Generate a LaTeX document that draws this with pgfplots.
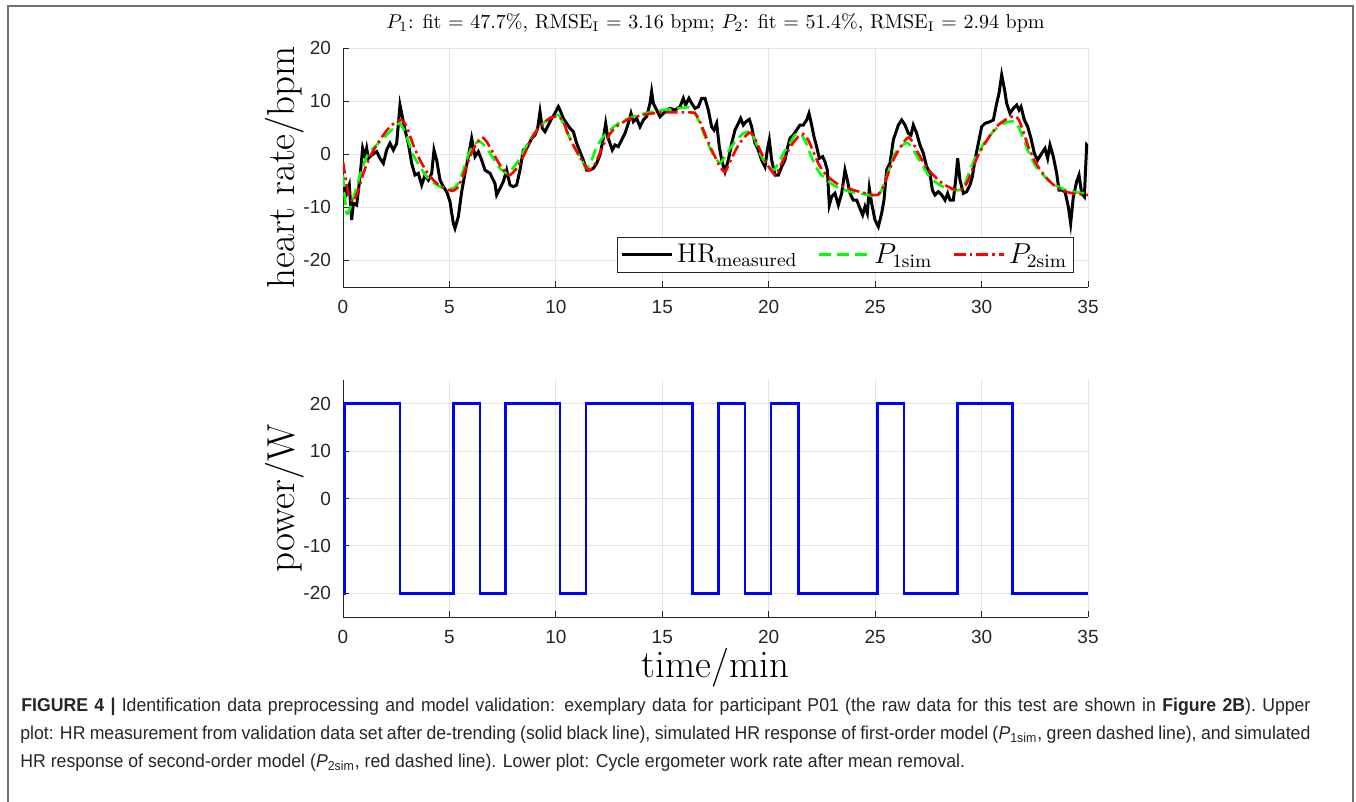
\documentclass[border=0pt]{standalone}
\usepackage{fontspec}
\usepackage{pgfplots}
\pgfplotsset{compat=1.18}
\newfontfamily\ticksf{Liberation Sans}
\newfontfamily\capsf[FakeStretch=0.95]{Liberation Sans}
\definecolor{axgray}{RGB}{38,38,38}
\definecolor{gridgray}{RGB}{228,228,228}
\definecolor{mgreen}{RGB}{0,255,0}
\definecolor{mred}{RGB}{255,0,0}
\definecolor{mblue}{RGB}{0,0,255}
\definecolor{framegray}{RGB}{112,112,112}

\pgfplotsset{
  matlab/.style={
    scale only axis, width=372.5pt,
    xmin=0, xmax=35, xtick={0,5,...,35},
    axis x line*=bottom, axis y line*=left,
    axis line style={axgray, line width=0.45pt},
    tick style={axgray, line width=0.45pt},
    major tick length=3pt, tick align=inside,
    grid=major, grid style={gridgray, line width=0.5pt},
    ticklabel style={font=\fontsize{9.5}{11}\ticksf, text=axgray},
    /pgf/number format/assume math mode=true,
    xticklabel style={yshift=-3pt},
    yticklabel style={xshift=-2.5pt},
    label style={font=\fontsize{19.5}{22}\selectfont},
    ylabel style={at={(axis description cs:-0.078,0.5)}, anchor=center},
  }
}

\begin{document}
\begin{tikzpicture}
\useasboundingbox (0pt,0pt) rectangle (678pt,-401pt);
\draw[framegray, line width=0.8pt] (4pt,-420pt) -- (4pt,-3pt) -- (676.5pt,-3pt) -- (676.5pt,-420pt);

% upper plot: heart rate
\begin{axis}[matlab,
  at={(171.5pt,-143.5pt)}, anchor=south west,
  height=119.5pt,
  ymin=-25, ymax=20, ytick={-20,-10,...,20},
  ylabel={heart rate/bpm},
  title={$P_1$: fit $=$ 47.7\%, RMSE$_\mathrm{I}$ $=$ 3.16 bpm; $P_2$: fit $=$ 51.4\%, RMSE$_\mathrm{I}$ $=$ 2.94 bpm},
  title style={at={(0.5,1)}, anchor=base, yshift=4pt, font=\fontsize{10}{12}\selectfont},
  legend columns=3,
  legend style={at={(0.981,0.0586)}, anchor=south east, draw=axgray, line width=0.5pt,
    font=\fontsize{13.5}{15}\selectfont, inner sep=1.2pt,
    /tikz/every even column/.append style={column sep=8pt}},
  legend image code/.code={\draw[#1] (0pt,0pt) -- (25pt,0pt);},
]
\addplot[black, line width=1.5pt] coordinates {
(0,-5.5)(0.172,-7.37)(0.297,-5.80)(0.407,-12.39)(0.485,-9.25)(0.642,-9.57)(0.799,-4.23)(0.924,1.11)(1.033,-0.46)(1.112,1.11)(1.19,-0.78)(1.347,-0.15)(1.582,0.48)(1.738,-0.78)(1.895,-1.72)(2.051,0.79)(2.208,2.05)(2.364,0.79)(2.521,2.05)(2.678,9.27)(2.756,7.70)(2.912,4.56)(3.069,2.05)(3.226,-1.72)(3.382,-3.92)(3.539,-3.60)(3.696,-5.80)(3.852,-3.92)(4.009,-4.86)(4.165,-3.60)(4.275,0.79)(4.400,-1.09)(4.557,-4.86)(4.713,-6.11)(4.87,-7.06)(5.027,-8.94)(5.183,-13.02)(5.261,-13.96)(5.418,-11.76)(5.575,-7.06)(5.731,-3.60)(5.888,-0.46)(6.044,2.99)(6.201,-0.46)(6.358,0.48)(6.514,-1.09)(6.671,-2.98)(6.906,-3.60)(7.14,-5.49)(7.219,-7.68)(7.376,-6.43)(7.532,-5.17)(7.689,-2.98)(7.845,-5.80)(8.002,-6.11)(8.159,-5.80)(8.315,-2.98)(8.472,0.79)(8.628,1.11)
(8.863,2.99)(9.02,3.62)(9.145,4.87)(9.255,8.01)(9.364,4.87)(9.49,4.24)(9.646,5.50)(9.803,6.75)(9.959,7.70)(10.116,8.95)(10.194,8.32)(10.351,6.75)(10.507,5.81)(10.664,4.87)(10.821,4.24)(10.977,2.05)(11.134,0.48)(11.29,-1.09)(11.447,-2.98)(11.604,-2.98)(11.76,-2.66)(11.917,-1.72)(12.073,-0.15)(12.23,2.99)(12.34,5.81)(12.434,3.30)(12.543,2.05)(12.653,0.79)(12.778,1.73)(12.935,1.42)(13.091,2.67)(13.248,3.93)(13.404,5.81)(13.53,7.70)(13.639,6.13)(13.796,6.75)(13.952,5.18)(14.109,6.44)(14.266,7.07)(14.422,9.58)(14.5,11.78)(14.579,9.58)(14.735,8.32)(14.892,7.07)(15.049,7.70)(15.205,8.32)(15.362,8.64)(15.597,8.32)(15.832,8.95)(15.988,10.52)(16.098,9.27)(16.254,10.52)(16.38,9.58)(16.536,8.64)(16.693,8.95)(16.849,10.52)(17.006,10.52)(17.163,8.32)(17.319,5.18)
(17.429,4.56)(17.554,5.81)(17.679,1.42)(17.789,-1.09)(17.946,-3.29)(18.102,-1.09)(18.259,2.05)(18.415,4.56)(18.572,5.81)(18.682,6.75)(18.807,5.50)(18.932,6.13)(19.089,6.57)(19.198,5.18)(19.355,2.05)(19.512,0.79)(19.668,-1.09)(19.825,-2.35)(19.934,0.79)(20.028,2.67)(20.138,-1.09)(20.295,-3.92)(20.451,-3.92)(20.608,-2.35)(20.764,-1.09)(20.874,1.11)(20.999,2.99)(21.156,3.62)(21.312,4.56)(21.469,5.50)(21.626,5.50)(21.782,6.44)(21.892,7.70)(22.017,5.50)(22.127,3.30)(22.252,1.42)(22.377,-0.78)(22.534,-0.46)(22.643,-1.41)(22.753,-2.98)(22.847,-9.57)(22.957,-8.00)(23.113,-7.37)(23.27,-9.57)(23.427,-7.37)(23.583,-2.98)(23.693,-4.86)(23.818,-7.37)(23.974,-8.63)(24.131,-8.63)(24.288,-10.19)(24.413,-11.45)(24.522,-9.88)(24.632,-11.14)(24.726,-6.43)(24.836,-9.25)(24.992,-12.39)(25.149,-13.65)(25.305,-11.14)(25.415,-8.63)(25.54,-2.98)(25.697,-1.72)(25.853,2.67)
(26.09,5.50)(26.246,6.44)(26.403,5.50)(26.559,3.93)(26.685,3.62)(26.794,5.50)(26.951,3.93)(27.107,1.73)(27.264,0.16)(27.421,-2.35)(27.577,-3.60)(27.687,-6.74)(27.812,-7.68)(27.969,-7.06)(28.125,-7.68)(28.282,-8.63)(28.407,-7.37)(28.517,-8.63)(28.673,-8.63)(28.783,-4.86)(28.877,-0.78)(28.986,-4.86)(29.143,-7.37)(29.3,-7.06)(29.456,-5.80)(29.566,-4.23)(29.691,-1.09)(29.848,2.05)(30.004,5.18)(30.161,5.81)(30.396,6.13)(30.553,6.44)(30.709,9.58)(30.819,11.46)(30.944,14.92)(31.069,12.40)(31.179,9.58)(31.336,7.70)(31.492,8.64)(31.649,9.27)(31.758,8.32)(31.852,8.95)(32.009,6.44)(32.166,5.18)(32.322,2.99)(32.479,0.16)(32.635,-1.09)(32.823,0.16)(32.98,1.11)(33.105,-0.78)(33.215,1.73)(33.371,-0.46)(33.528,-3.60)(33.637,-6.74)(33.763,-6.74)(33.919,-7.06)(34.076,-9.88)(34.185,-13.02)(34.311,-8.00)(34.467,-5.17)(34.577,-3.92)(34.702,-7.37)(34.828,-8.00)(34.937,1.73)(35.0,1.42)
};
\addlegendentry{HR$_\mathrm{measured}$}
\addplot[mgreen, line width=1.3pt, dash pattern=on 6pt off 3pt, smooth, tension=0.4] coordinates {
(0,-3.9)(0.172,-11.14)(0.407,-9.25)(0.642,-6.11)(0.877,-2.98)(1.112,-0.46)(1.425,1.11)(1.738,2.36)(2.051,3.62)(2.364,4.87)(2.678,5.81)(2.991,3.30)(3.304,-0.15)(3.617,-2.35)(3.93,-4.23)(4.244,-5.36)(4.557,-6.11)(4.87,-6.43)(5.183,-6.43)(5.418,-5.49)(5.653,-2.98)(5.888,-0.15)(6.123,1.73)(6.436,2.36)(6.749,1.11)(7.062,-0.78)(7.376,-2.66)(7.689,-3.60)(7.845,-3.29)(8.159,-1.72)(8.472,0.48)(8.785,2.67)(9.176,4.87)(9.49,6.13)(9.803,7.07)(10.116,7.38)(10.351,5.81)(10.586,3.62)(10.899,1.11)(11.212,-1.09)(11.447,-2.66)(11.682,-1.09)(11.917,1.42)(12.23,3.30)(12.543,4.56)(12.935,5.81)(13.404,6.75)(13.874,7.38)(14.344,7.82)(14.814,8.20)(15.283,8.45)(15.753,8.64)(16.223,8.83)(16.458,8.32)(16.693,6.44)(17.006,3.30)(17.319,0.48)(17.476,-0.6)(17.711,-1.6)(17.946,-0.46)(18.181,1.11)(18.494,2.67)(18.807,3.93)(19.12,4.24)(19.355,2.67)(19.59,0.16)(19.903,-2.03)(20.216,-2.98)(20.451,-1.72)(20.686,0.16)(20.999,2.05)(21.234,3.62)(21.469,3.93)(21.704,2.67)(21.939,0.16)(22.174,-2.03)(22.409,-3.60)(22.722,-4.86)(23.035,-5.80)(23.348,-6.43)(23.818,-7.06)(24.288,-7.37)(24.679,-7.68)(24.992,-8.00)(25.227,-7.37)(25.462,-5.17)(25.697,-2.35)(25.932,0.16)(26.168,1.3)(26.403,2.0)(26.559,2.05)(26.794,0.79)(27.029,-0.78)(27.264,-2.35)(27.499,-3.92)(27.812,-5.17)(28.125,-5.99)(28.439,-6.43)(28.752,-6.74)(28.986,-6.74)(29.221,-5.49)(29.456,-2.98)(29.691,-0.78)(29.926,0.79)(30.161,2.36)(30.474,3.93)(30.788,5.18)(31.101,5.9)(31.414,6.2)(31.571,6.1)(31.727,5.2)(31.962,2.99)(32.197,0.48)(32.51,-2.03)(32.823,-3.60)(33.136,-4.86)(33.45,-5.80)(33.763,-6.43)(34.076,-6.87)(34.467,-7.18)(34.937,-7.37)(35,-7.4)
};
\addlegendentry{$P_\mathrm{1sim}$}
\addplot[mred, line width=1.3pt, dash pattern=on 6pt off 2pt on 1.3pt off 2pt, smooth, tension=0.4] coordinates {
(0,-1.41)(0.250,-7.37)(0.485,-8.94)(0.72,-6.74)(0.955,-3.60)(1.268,-0.46)(1.582,1.73)(1.895,3.62)(2.208,5.18)(2.521,6.13)(2.756,6.44)(2.991,5.18)(3.304,1.73)(3.617,-1.09)(3.93,-3.29)(4.244,-4.86)(4.557,-5.99)(4.87,-6.62)(5.183,-6.87)(5.418,-6.11)(5.653,-3.92)(5.966,-0.46)(6.279,2.05)(6.514,3.18)(6.749,2.36)(7.062,0.16)(7.376,-2.03)(7.689,-3.60)(7.845,-3.92)(8.159,-2.66)(8.472,-0.46)(8.863,2.99)(9.176,4.87)(9.49,6.13)(9.803,6.94)(10.116,7.07)(10.351,6.13)(10.586,3.62)(10.899,1.11)(11.212,-1.09)(11.525,-2.98)(11.76,-2.35)(11.995,-0.46)(12.308,2.36)(12.621,4.24)(12.935,5.50)(13.404,6.57)(13.874,7.19)(14.344,7.57)(14.814,7.82)(15.283,7.88)(15.753,7.88)(16.223,7.88)(16.536,7.70)(16.771,6.13)(17.084,2.99)(17.319,0.79)(17.476,-0.46)(17.711,-2.35)(17.946,-3.29)(18.181,-1.41)(18.494,1.11)(18.807,2.99)(19.12,4.06)(19.355,2.99)(19.59,0.79)(19.903,-1.72)(20.295,-3.92)(20.529,-2.35)(20.764,-0.46)(21.077,1.73)(21.39,3.30)(21.626,3.80)(21.86,2.67)(22.095,0.48)(22.33,-1.72)(22.565,-3.29)(22.878,-4.55)(23.192,-5.49)(23.505,-6.11)(23.974,-6.74)(24.444,-7.24)(24.914,-7.68)(25.149,-7.56)(25.384,-6.11)(25.619,-3.60)(25.853,-1.09)(26.168,1.2)(26.403,2.6)(26.591,3.18)(26.794,2.05)(27.029,0.16)(27.342,-2.03)(27.656,-3.60)(27.969,-4.86)(28.282,-5.80)(28.595,-6.43)(28.908,-6.74)(29.143,-6.43)(29.378,-4.86)(29.613,-2.35)(29.848,-0.15)(30.161,2.05)(30.474,3.93)(30.788,5.50)(31.101,6.44)(31.414,7.07)(31.571,7.19)(31.758,6.44)(31.962,4.24)(32.197,1.42)(32.51,-1.41)(32.823,-3.29)(33.136,-4.86)(33.45,-5.99)(33.763,-6.74)(34.076,-7.18)(34.467,-7.49)(35,-7.68)
};
\addlegendentry{$P_\mathrm{2sim}$}
\end{axis}

% lower plot: power
\begin{axis}[matlab,
  at={(171.5pt,-308.5pt)}, anchor=south west,
  height=118.5pt,
  ymin=-25, ymax=25, ytick={-20,-10,...,20},
  ylabel={power/W},
  xlabel={time/min},
  xlabel style={at={(axis description cs:0.5,0)}, anchor=base, yshift=-30pt},
]
\addplot[mblue, line width=1.3pt, const plot] coordinates {
(0,-20)(0.08,20)(2.68,-20)(5.18,20)(6.44,-20)(7.64,20)(10.19,-20)(11.42,20)(16.41,-20)(17.63,20)(18.89,-20)(20.11,20)(21.39,-20)(25.12,20)(26.36,-20)(28.88,20)(31.45,-20)(35,-20)
};
\end{axis}

% caption, first two lines justified to the same width
\begin{scope}[every node/.style={anchor=base west, inner sep=0pt, font=\fontsize{9.3}{11}\capsf, text=black!85}]
\node at (10.5pt,-355.5pt) {\hbox to 644.5pt{\textbf{FIGURE 4 |} Identification data preprocessing and model validation: exemplary data for participant P01 (the raw data for this test are shown in \textbf{Figure 2B}). Upper}};
\node at (10pt,-369.5pt) {\hbox to 645pt{plot: HR measurement from validation data set after de-trending (solid black line), simulated HR response of first-order model (\textit{P}\textsubscript{1sim}, green dashed line), and simulated}};
\node at (10pt,-383.5pt) {HR response of second-order model (\textit{P}\textsubscript{2sim}, red dashed line). Lower plot: Cycle ergometer work rate after mean removal.};
\end{scope}
\end{tikzpicture}
\end{document}
